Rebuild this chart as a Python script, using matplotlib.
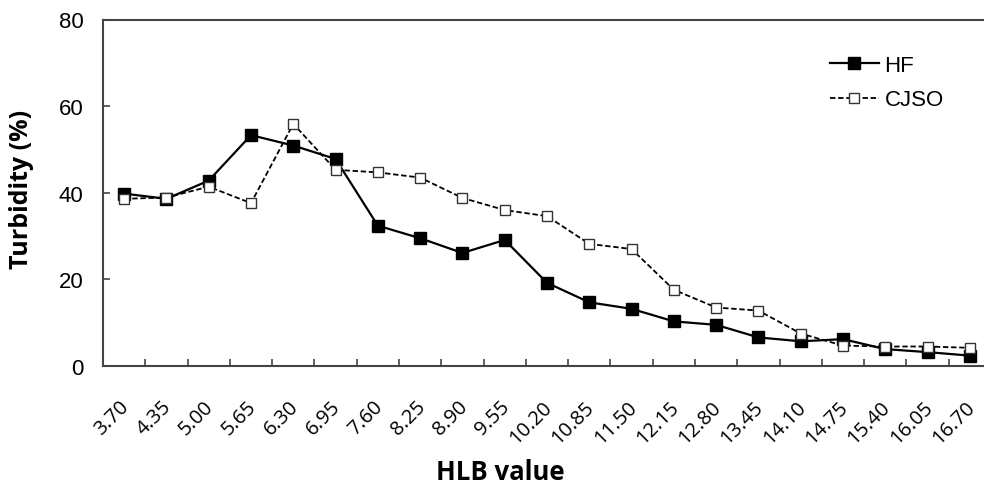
import numpy as np
import matplotlib
matplotlib.use("Agg")
import matplotlib.pyplot as plt
from matplotlib.transforms import ScaledTranslation

# HLB values (category axis) and turbidity readings
hlb_labels = ["3.70", "4.35", "5.00", "5.65", "6.30", "6.95", "7.60", "8.25", "8.90", "9.55",
              "10.20", "10.85", "11.50", "12.15", "12.80", "13.45", "14.10", "14.75", "15.40",
              "16.05", "16.70"]
hf = [39.8, 38.6, 42.8, 53.3, 50.9, 47.8, 32.4, 29.5, 26.1, 29.1, 19.2,
      14.7, 13.2, 10.3, 9.5, 6.6, 5.7, 6.2, 3.9, 3.2, 2.4]
cjso = [38.6, 38.9, 41.4, 37.6, 55.9, 45.3, 44.7, 43.5, 38.8, 36.0, 34.6,
        28.2, 27.0, 17.6, 13.5, 12.8, 7.5, 4.7, 4.5, 4.5, 4.2]
y_ticks = [0, 20, 40, 60, 80]

x = np.arange(len(hlb_labels))

fig = plt.figure(figsize=(9.84, 4.89), dpi=100)
# plot area runs past the right edge in the original, so it goes past 1.0 here too
ax = fig.add_axes([103 / 984, 122 / 489, 888 / 984, 346.5 / 489])

ax.plot(x, hf, color="black", lw=1.6, marker="s", markersize=8,
        markerfacecolor="black", markeredgecolor="black", label="HF")
ax.plot(x, cjso, color="black", lw=1.3, linestyle=(0, (3, 1.5)), marker="s",
        markersize=7.5, markerfacecolor="white", markeredgecolor="#333333",
        markeredgewidth=1.0, label="CJSO")

ax.set_xlim(-0.5, len(x) - 0.5)
ax.set_ylim(0, 80)

# labels centred on categories, tick marks on the boundaries
ax.set_xticks(x)
ax.set_xticklabels(hlb_labels, rotation=45, ha="right", va="top",
                   rotation_mode="anchor", fontsize=14.5, family="Open Sans")
ax.tick_params(axis="x", which="major", length=0, pad=22)
ax.set_xticks(x[:-1] + 0.5, minor=True)
ax.tick_params(axis="x", which="minor", direction="in", length=5,
               width=1.2, color="#444444")
shift = ScaledTranslation(-5 / 100, 0, fig.dpi_scale_trans)
for lbl in ax.get_xticklabels():
    lbl.set_transform(lbl.get_transform() + shift)

ax.set_yticks(y_ticks)
ax.set_yticklabels([str(v) for v in y_ticks], fontsize=16, family="Liberation Sans")
ax.tick_params(axis="y", direction="in", length=5, width=1.2,
               color="#444444", pad=14)

for side in ["left", "bottom", "top", "right"]:
    ax.spines[side].set_color("#444444")
    ax.spines[side].set_linewidth(1.5)

fig.text(22 / 984, 1 - 189 / 489, "Turbidity (%)", fontsize=18, fontweight="bold",
         family="Open Sans", rotation=90, ha="center", va="center")
fig.text(500 / 984, 1 - 473 / 489, "HLB value", fontsize=18.5, fontweight="bold",
         family="Open Sans", ha="center", va="center")

leg = ax.legend(loc="upper left", bbox_to_anchor=(830 / 984, 1 - 56 / 489),
                bbox_transform=fig.transFigure, frameon=False, borderpad=0,
                borderaxespad=0, prop={"family": "Liberation Sans", "size": 16},
                handlelength=2.2, handletextpad=0.25, labelspacing=0.6)

fig.savefig("out.png", dpi=100)
